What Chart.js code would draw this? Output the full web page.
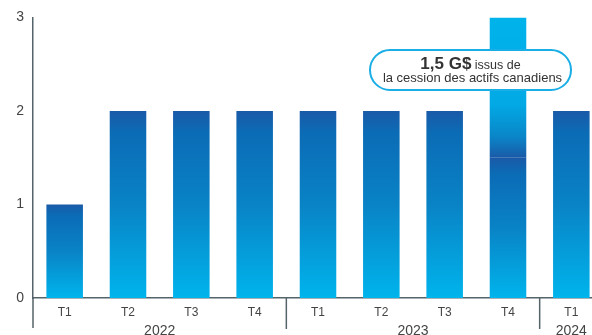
<!DOCTYPE html>
<html>
<head>
<meta charset="utf-8">
<script src="https://cdn.jsdelivr.net/npm/chart.js@4/dist/chart.umd.min.js"></script>
<style>
    html, body { margin: 0; padding: 0; background: #fff; overflow: hidden; }
    #wrap { width: 605px; height: 335px; }
</style>
</head>
<body>
<div id="wrap"><canvas id="cessionChart" width="605" height="335"></canvas></div>
<script>
// Data
const quarters = ['T1', 'T2', 'T3', 'T4', 'T1', 'T2', 'T3', 'T4', 'T1'];
const years = ['2022', '2023', '2024'];
const yearGroups = [[0, 3], [4, 7], [8, 8]];
const baseValues = [1, 2, 2, 2, 2, 2, 2, 1.5, 2];
const cessionValues = [0, 0, 0, 0, 0, 0, 0, 1.5, 0];
const yTicks = [0, 1, 2, 3];

const axisColor = '#55636a';
const textColor = '#444';

// gradient from top to bottom of each bar segment
function segmentGradient(context, topValue, bottomValue, stops) {
    const chart = context.chart;
    const { ctx, chartArea, scales } = chart;
    if (!chartArea || !scales.y) return '#0a7cc2';
    const top = scales.y.getPixelForValue(topValue);
    const bottom = scales.y.getPixelForValue(bottomValue);
    if (!isFinite(top) || !isFinite(bottom) || top === bottom) return '#0a7cc2';
    const g = ctx.createLinearGradient(0, top, 0, bottom);
    stops.forEach(s => g.addColorStop(s[0], s[1]));
    return g;
}

const darkToLight = [[0, '#1a5aa8'], [0.12, '#0b6cb6'], [0.5, '#0983c6'], [1, '#00b4ec']];
const lightToDark = [[0, '#00b3eb'], [0.62, '#02a9e5'], [0.85, '#0a86c8'], [1, '#1a5aa8']];

// year labels, separators and axis extensions under the x axis
const yearPlugin = {
    id: 'yearPlugin',
    afterDraw(chart) {
        const { ctx, chartArea, scales } = chart;
        const x = scales.x;
        const base = chartArea.bottom;
        ctx.save();
        ctx.strokeStyle = axisColor;
        ctx.lineWidth = 1.5;
        // y axis extension
        ctx.beginPath();
        ctx.moveTo(chartArea.left, base);
        ctx.lineTo(chartArea.left, 328);
        ctx.stroke();
        // separators between years
        yearGroups.forEach((grp, i) => {
            if (i === 0) return;
            const sep = (x.getPixelForValue(grp[0] - 1) + x.getPixelForValue(grp[0])) / 2;
            ctx.beginPath();
            ctx.moveTo(sep, base);
            ctx.lineTo(sep, 329);
            ctx.stroke();
        });
        ctx.fillStyle = textColor;
        ctx.font = '14px "Liberation Sans", Arial, sans-serif';
        ctx.textAlign = 'center';
        ctx.textBaseline = 'alphabetic';
        yearGroups.forEach((grp, i) => {
            const cx = (x.getPixelForValue(grp[0]) + x.getPixelForValue(grp[1])) / 2;
            ctx.fillText(years[i], cx, 335);
        });
        ctx.restore();
    }
};

// rounded callout box
const calloutPlugin = {
    id: 'calloutPlugin',
    afterDatasetsDraw(chart) {
        const { ctx } = chart;
        const left = 370, right = 571, top = 50, bottom = 90, r = 20;
        ctx.save();
        ctx.beginPath();
        ctx.roundRect(left, top, right - left, bottom - top, r);
        ctx.fillStyle = '#fff';
        ctx.fill();
        ctx.lineWidth = 2;
        ctx.strokeStyle = '#1aaee6';
        ctx.stroke();

        const cx = (left + right) / 2;
        ctx.fillStyle = '#333';
        ctx.textBaseline = 'alphabetic';
        const boldFont = 'bold 17px "Liberation Sans", Arial, sans-serif';
        const smallFont = '12.5px "Liberation Sans", Arial, sans-serif';
        ctx.font = boldFont;
        const bold = '1,5 G$';
        const wBold = ctx.measureText(bold).width;
        ctx.font = smallFont;
        const rest = ' issus de';
        const wRest = ctx.measureText(rest).width;
        let sx = cx - (wBold + wRest) / 2;
        ctx.textAlign = 'left';
        ctx.font = boldFont;
        ctx.fillText(bold, sx, 69);
        ctx.font = smallFont;
        ctx.fillText(rest, sx + wBold, 69);
        ctx.textAlign = 'center';
        ctx.font = '13px "Liberation Sans", Arial, sans-serif';
        ctx.fillText('la cession des actifs canadiens', cx + 2, 82);
        ctx.restore();
    }
};

const cessionCtx = document.getElementById('cessionChart').getContext('2d');
const cessionChart = new Chart(cessionCtx, {
    type: 'bar',
    data: {
        labels: quarters,
        datasets: [{
            label: 'Base',
            data: baseValues,
            backgroundColor: (c) => segmentGradient(c, baseValues[c.dataIndex], 0, darkToLight),
            barPercentage: 0.577,
            categoryPercentage: 1,
            borderWidth: 0
        }, {
            label: 'Cession',
            data: cessionValues,
            backgroundColor: (c) => segmentGradient(c, baseValues[c.dataIndex] + cessionValues[c.dataIndex], baseValues[c.dataIndex], lightToDark),
            barPercentage: 0.577,
            categoryPercentage: 1,
            borderWidth: 0
        }]
    },
    options: {
        responsive: false,
        animation: false,
        layout: { padding: { top: 17, right: 2, left: 0, bottom: 0 } },
        plugins: {
            legend: { display: false },
            tooltip: { enabled: false }
        },
        scales: {
            x: {
                stacked: true,
                grid: { display: false, drawTicks: false },
                border: { color: axisColor, width: 1.5 },
                ticks: {
                    color: textColor,
                    font: { family: '"Liberation Sans", Arial, sans-serif', size: 12 },
                    padding: 7,
                    maxRotation: 0
                },
                afterFit(scale) { scale.height = 37; }
            },
            y: {
                stacked: true,
                min: 0,
                max: 3,
                afterBuildTicks(scale) { scale.ticks = yTicks.map(v => ({ value: v })); },
                grid: { display: false, drawTicks: false },
                border: { color: axisColor, width: 1.5 },
                ticks: {
                    color: textColor,
                    font: { family: '"Liberation Sans", Arial, sans-serif', size: 14 },
                    padding: 9
                },
                afterFit(scale) { scale.width = 33; }
            }
        }
    },
    plugins: [yearPlugin, calloutPlugin]
});
</script>
</body>
</html>
